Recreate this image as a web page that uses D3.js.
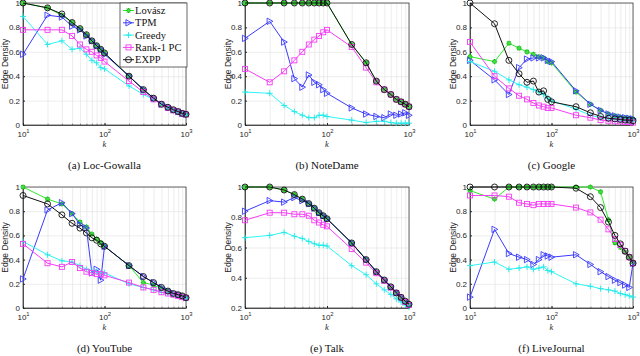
<!DOCTYPE html>
<html><head><meta charset="utf-8">
<script src="https://cdn.jsdelivr.net/npm/d3@7"></script>
<style>body{margin:0;background:#fff}svg{display:block}</style>
</head><body><svg id="c" width="640" height="356"></svg>
<script>
const kValues = [10,20,30,40,50,60,70,80,90,100,200,300,400,500,600,700,800,900,1000];
const seriesNames = ["Lovász","TPM","Greedy","Rank-1 PC","EXPP"];
const captions = ["(a) Loc-Gowalla","(b) NoteDame","(c) Google","(d) YouTube","(e) Talk","(f) LiveJournal"];
const xTickValues = [10,100,1000];
const xTickExps = ["1","2","3"];
const yTicksFull = [0,0.2,0.4,0.6,0.8,1];
const yTicksTalk = [0.2,0.4,0.6,0.8,1];

// (a) Loc-Gowalla
const gowLovasz = [1.0,0.96,0.90,0.84,0.79,0.74,0.69,0.65,0.62,0.59,0.40,0.29,0.22,0.17,0.145,0.125,0.11,0.095,0.088];
const gowTPM    = [0.58,0.90,0.885,0.81,0.78,0.73,0.69,0.65,0.62,0.58,0.40,0.29,0.22,0.17,0.145,0.125,0.11,0.095,0.088];
const gowGreedy = [0.89,0.66,0.69,0.62,0.63,0.58,0.53,0.51,0.47,0.46,0.32,0.25,0.21,0.17,0.14,0.12,0.105,0.09,0.08];
const gowRank1  = [0.78,0.78,0.78,0.73,0.66,0.62,0.60,0.57,0.55,0.52,0.36,0.27,0.21,0.17,0.14,0.12,0.11,0.095,0.085];
const gowEXPP   = [1.0,0.96,0.91,0.84,0.79,0.74,0.69,0.65,0.62,0.59,0.40,0.29,0.22,0.17,0.145,0.125,0.11,0.095,0.088];
// (b) NoteDame
const ndLovasz = [1,1,1,1,1,1,1,1,1,1,0.66,0.51,0.36,0.29,0.25,0.21,0.19,0.17,0.15];
const ndTPM    = [0.71,0.85,0.68,0.38,0.31,0.41,0.35,0.33,0.29,0.26,0.14,0.09,0.07,0.06,0.09,0.08,0.09,0.10,0.08];
const ndGreedy = [0.27,0.26,0.16,0.11,0.08,0.06,0.06,0.08,0.08,0.07,0.04,0.02,0.03,0.03,0.02,0.015,0.015,0.015,0.015];
const ndRank1  = [0.46,0.35,0.44,0.53,0.60,0.66,0.70,0.73,0.76,0.78,0.64,0.47,0.35,0.29,0.25,0.21,0.19,0.17,0.15];
const ndEXPP   = [1,1,1,1,1,1,1,1,1,1,0.66,0.51,0.36,0.29,0.25,0.21,0.19,0.17,0.15];
// (c) Google
const gooLovasz = [0.56,0.52,0.67,0.63,0.60,0.58,0.56,0.55,0.52,0.51,0.27,0.17,0.12,0.09,0.075,0.065,0.06,0.055,0.05];
const gooTPM    = [0.53,0.37,0.25,0.47,0.54,0.55,0.55,0.55,0.53,0.52,0.28,0.17,0.12,0.09,0.075,0.065,0.06,0.055,0.05];
const gooGreedy = [0.52,0.44,0.37,0.33,0.31,0.29,0.27,0.25,0.22,0.20,0.13,0.08,0.06,0.05,0.045,0.04,0.035,0.03,0.03];
const gooRank1  = [0.68,0.40,0.30,0.24,0.21,0.18,0.16,0.15,0.14,0.14,0.08,0.06,0.04,0.035,0.03,0.03,0.025,0.025,0.02];
const gooEXPP   = [1.0,0.83,0.53,0.42,0.35,0.36,0.27,0.28,0.21,0.19,0.15,0.10,0.07,0.055,0.05,0.045,0.04,0.04,0.035];
// (d) YouTube
const ytLovasz = [1.0,0.90,0.86,0.78,0.71,0.67,0.61,0.57,0.54,0.51,0.35,0.21,0.19,0.16,0.14,0.12,0.11,0.10,0.085];
const ytTPM    = [0.24,0.81,0.87,0.78,0.69,0.66,0.29,0.32,0.23,0.51,0.35,0.26,0.21,0.17,0.14,0.12,0.11,0.10,0.085];
const ytGreedy = [0.55,0.44,0.39,0.38,0.35,0.32,0.31,0.30,0.29,0.29,0.20,0.17,0.15,0.13,0.12,0.11,0.10,0.09,0.08];
const ytRank1  = [0.53,0.37,0.34,0.38,0.33,0.30,0.29,0.28,0.28,0.27,0.21,0.17,0.15,0.13,0.12,0.11,0.10,0.09,0.085];
const ytEXPP   = [0.93,0.86,0.77,0.70,0.66,0.62,0.58,0.56,0.53,0.51,0.35,0.26,0.21,0.17,0.14,0.12,0.11,0.10,0.085];
// (e) Talk
const talkLovasz = [1.0,1.0,0.98,0.95,0.92,0.89,0.86,0.83,0.81,0.79,0.63,0.52,0.44,0.385,0.34,0.30,0.27,0.245,0.225];
const talkTPM    = [0.84,0.91,0.90,0.93,0.91,0.89,0.86,0.83,0.81,0.79,0.63,0.52,0.44,0.385,0.34,0.30,0.27,0.245,0.225];
const talkGreedy = [0.665,0.68,0.70,0.675,0.66,0.64,0.625,0.615,0.615,0.61,0.48,0.42,0.36,0.32,0.29,0.26,0.24,0.22,0.205];
const talkRank1  = [0.78,0.83,0.83,0.82,0.82,0.81,0.78,0.765,0.75,0.74,0.59,0.50,0.43,0.38,0.335,0.30,0.27,0.24,0.22];
const talkEXPP   = [1.0,1.0,0.98,0.95,0.92,0.89,0.86,0.83,0.81,0.79,0.63,0.52,0.44,0.385,0.34,0.30,0.27,0.245,0.225];
// (f) LiveJournal
const ljLovasz = [0.97,0.90,1,1,1,1,1,1,1,1,1,1,0.96,0.73,0.54,0.50,0.46,0.42,0.38];
const ljTPM    = [0.09,0.65,0.45,0.42,0.40,0.36,0.40,0.44,0.43,0.42,0.44,0.36,0.30,0.26,0.23,0.21,0.19,0.17,0.37];
const ljGreedy = [0.35,0.38,0.32,0.33,0.34,0.32,0.33,0.34,0.31,0.30,0.20,0.18,0.16,0.15,0.14,0.12,0.11,0.10,0.09];
const ljRank1  = [0.93,0.93,0.92,0.87,0.86,0.85,0.86,0.86,0.86,0.86,0.83,0.79,0.73,0.65,0.57,0.52,0.47,0.42,0.37];
const ljEXPP   = [1,1,1,1,1,1,1,1,1,1,0.99,0.92,0.83,0.71,0.60,0.53,0.47,0.42,0.37];

const panels = [
  {cap:captions[0], data:[gowLovasz,gowTPM,gowGreedy,gowRank1,gowEXPP], yd:[0,1], yt:yTicksFull, legend:true},
  {cap:captions[1], data:[ndLovasz,ndTPM,ndGreedy,ndRank1,ndEXPP], yd:[0,1], yt:yTicksFull},
  {cap:captions[2], data:[gooLovasz,gooTPM,gooGreedy,gooRank1,gooEXPP], yd:[0,1], yt:yTicksFull},
  {cap:captions[3], data:[ytLovasz,ytTPM,ytGreedy,ytRank1,ytEXPP], yd:[0,1], yt:yTicksFull},
  {cap:captions[4], data:[talkLovasz,talkTPM,talkGreedy,talkRank1,talkEXPP], yd:[0.2,1], yt:yTicksTalk},
  {cap:captions[5], data:[ljLovasz,ljTPM,ljGreedy,ljRank1,ljEXPP], yd:[0,1], yt:yTicksFull}
];

const colors = ["#2cec2c","#3a3aff","#2ef6f6","#f53cf5","#111111"];
const markerColors = ["#16b816","#3a3aff","#20e8e8","#f53cf5","#111111"];
const colX = [[23,186],[245,409],[470,633]];
const rowY = [[3,125],[187,308]];
const yLabelX = [5,228,453];

const svg = d3.select("#c");
svg.append("rect").attr("width",640).attr("height",356).attr("fill","#fff");
const tickFont = "'Liberation Sans', Arial, sans-serif";
const serif = "'Liberation Serif', 'DejaVu Serif', serif";

function drawMarker(g, type, x, y, col) {
  if (type===0) { // asterisk
    const s=2.6;
    g.append("path").attr("d",`M${x-s},${y}L${x+s},${y}M${x},${y-s}L${x},${y+s}M${x-s*0.7},${y-s*0.7}L${x+s*0.7},${y+s*0.7}M${x-s*0.7},${y+s*0.7}L${x+s*0.7},${y-s*0.7}`)
     .attr("stroke",col).attr("stroke-width",1.2).attr("fill","none");
    g.append("circle").attr("cx",x).attr("cy",y).attr("r",1.6).attr("fill","#3ee03e");
  } else if (type===1) { // triangle right
    const s=3.2;
    g.append("path").attr("d",`M${x-s*0.8},${y-s}L${x+s},${y}L${x-s*0.8},${y+s}Z`).attr("stroke",col).attr("stroke-width",0.9).attr("fill","none");
  } else if (type===2) { // plus
    const s=3;
    g.append("path").attr("d",`M${x-s},${y}L${x+s},${y}M${x},${y-s}L${x},${y+s}`).attr("stroke",col).attr("stroke-width",0.9);
  } else if (type===3) { // square
    const s=2.5;
    g.append("rect").attr("x",x-s).attr("y",y-s).attr("width",2*s).attr("height",2*s).attr("stroke",col).attr("stroke-width",0.9).attr("fill","none");
  } else { // circle
    g.append("circle").attr("cx",x).attr("cy",y).attr("r",3).attr("stroke",col).attr("stroke-width",0.9).attr("fill","none");
  }
}

panels.forEach((p,i)=>{
  const c=i%3, r=Math.floor(i/3);
  const [x0,x1]=colX[c], [y0,y1]=rowY[r];
  const x=d3.scaleLog().domain([10,1000]).range([x0,x1]);
  const y=d3.scaleLinear().domain(p.yd).range([y1,y0]);
  const g=svg.append("g");
  const minor=[];
  for (let d=10; d<1000; d*=10) for (let m=1;m<=9;m++) minor.push(d*m);
  minor.push(1000);
  g.append("g").attr("transform",`translate(0,${y1})`)
   .call(d3.axisBottom(x).tickValues(minor).tickSize(-(y1-y0)).tickFormat(""))
   .call(a=>{a.select(".domain").remove(); a.selectAll("line").attr("stroke","#e0e0e0").attr("stroke-width",0.6);});
  g.append("g").attr("transform",`translate(${x0},0)`)
   .call(d3.axisLeft(y).tickValues(p.yt).tickSize(-(x1-x0)).tickFormat(""))
   .call(a=>{a.select(".domain").remove(); a.selectAll("line").attr("stroke","#e0e0e0").attr("stroke-width",0.6);});
  g.append("rect").attr("x",x0).attr("y",y0).attr("width",x1-x0).attr("height",y1-y0)
   .attr("fill","none").attr("stroke","#262626").attr("stroke-width",0.7);
  const xa=g.append("g").attr("transform",`translate(0,${y1})`)
   .call(d3.axisBottom(x).tickValues(xTickValues).tickSizeInner(-2).tickSizeOuter(0).tickPadding(4).tickFormat(""));
  xa.select(".domain").attr("stroke","#262626").attr("stroke-width",0.7);
  xa.selectAll("line").attr("stroke","#262626");
  xa.selectAll(".tick text").each(function(d,j){
    const t=d3.select(this).attr("font-family",tickFont).attr("font-size",8).attr("fill","#262626").attr("dy","0.95em").attr("text-anchor","middle");
    t.append("tspan").text("10");
    t.append("tspan").attr("dy","-3.2").attr("font-size",5.8).text(xTickExps[j]);
  });
  g.append("g").attr("transform",`translate(0,${y1})`)
   .call(d3.axisBottom(x).tickValues(minor).tickSize(-1.3).tickFormat(""))
   .call(a=>{a.select(".domain").remove(); a.selectAll("line").attr("stroke","#262626").attr("stroke-width",0.5);});
  const ya=g.append("g").attr("transform",`translate(${x0},0)`)
   .call(d3.axisLeft(y).tickValues(p.yt).tickSizeInner(-2).tickSizeOuter(0).tickPadding(3).tickFormat(d=>d3.format("")(+d.toFixed(1))));
  ya.select(".domain").attr("stroke","#262626").attr("stroke-width",0.7);
  ya.selectAll("line").attr("stroke","#262626");
  ya.selectAll("text").attr("font-family",tickFont).attr("font-size",8).attr("fill","#262626");
  g.append("text").attr("transform",`translate(${yLabelX[c]+3},${(y0+y1)/2}) rotate(-90)`)
   .attr("text-anchor","middle").attr("font-family",tickFont).attr("font-size",8.5).attr("fill","#262626").text("Edge Density");
  g.append("text").attr("x",(x0+x1)/2).attr("y",y1+22).attr("text-anchor","middle")
   .attr("font-family",serif).attr("font-style","italic").attr("font-size",8.5).attr("fill","#262626").text("k");
  g.append("text").attr("x",(x0+x1)/2).attr("y",y1+44).attr("text-anchor","middle")
   .attr("font-family",serif).attr("font-size",11).attr("fill","#111").text(p.cap);
  const line=d3.line().x((d,j)=>x(kValues[j])).y(d=>y(d));
  p.data.forEach((vals,s)=>{
    const sg=g.append("g");
    sg.append("path").attr("d",line(vals)).attr("fill","none").attr("stroke",colors[s]).attr("stroke-width",1);
    vals.forEach((v,j)=>drawMarker(sg,s,x(kValues[j]),y(v),markerColors[s]));
  });
  if (p.legend) {
    const lx=120, ly=3, lw=67, lh=64;
    const lg=g.append("g");
    lg.append("rect").attr("x",lx).attr("y",ly).attr("width",lw).attr("height",lh).attr("fill","#fff").attr("stroke","#262626").attr("stroke-width",0.7);
    seriesNames.forEach((nm,s)=>{
      const yy=ly+7.5+s*12.3;
      lg.append("line").attr("x1",lx+3).attr("x2",lx+14).attr("y1",yy).attr("y2",yy).attr("stroke",colors[s]).attr("stroke-width",1);
      drawMarker(lg,s,lx+8.5,yy,markerColors[s]);
      lg.append("text").attr("x",lx+15).attr("y",yy+3.4).attr("font-family",serif).attr("font-size",10.5).attr("fill","#111").text(nm);
    });
  }
});
</script></body></html>
